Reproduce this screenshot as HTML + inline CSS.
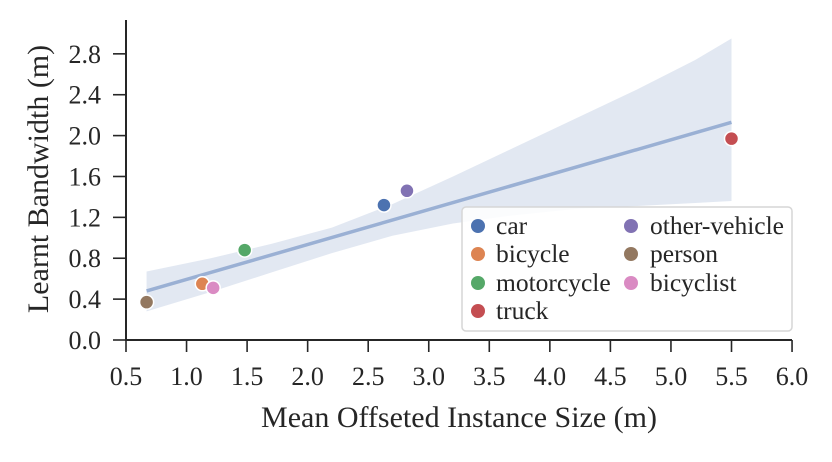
<!DOCTYPE html>
<html><head><meta charset="utf-8"><style>
body{margin:0;background:#fff}
svg text{font-family:"Liberation Serif",serif;fill:#262626}
</style></head><body>
<svg width="832" height="457" viewBox="0 0 832 457">
<g id="plot"></g>
</svg>
<script>
const categories=["car","bicycle","motorcycle","truck","other-vehicle","person","bicyclist"];
const colors=["#4c72b0","#dd8452","#55a868","#c44e52","#8172b3","#937860","#da8bc3"];
const xValues=[2.63,1.13,1.48,5.5,2.82,0.67,1.22];
const yValues=[1.32,0.55,0.88,1.97,1.46,0.37,0.51];
const xTicks=[0.5,1.0,1.5,2.0,2.5,3.0,3.5,4.0,4.5,5.0,5.5,6.0];
const yTicks=[0.0,0.4,0.8,1.2,1.6,2.0,2.4,2.8];
const fitX=[0.67,5.5];
const fitY=[0.48,2.13];
const bandX=[0.67,1.2,1.7,2.2,2.7,3.2,3.7,4.2,4.7,5.2,5.5];
const bandUpper=[0.67,0.80,0.94,1.10,1.33,1.60,1.88,2.16,2.44,2.74,2.95];
const bandLower=[0.28,0.47,0.66,0.85,1.02,1.14,1.22,1.28,1.31,1.34,1.36];
const X=v=>126+(v-0.5)*121.1, Y=v=>340-v*102.2;
const NS="http://www.w3.org/2000/svg";
const g=document.getElementById('plot');
function mk(t,a,txt){const e=document.createElementNS(NS,t);for(const k in a)e.setAttribute(k,a[k]);if(txt!==undefined)e.textContent=txt;g.appendChild(e);return e;}
let pts=bandX.map((x,i)=>X(x)+","+Y(bandUpper[i]));
pts=pts.concat(bandX.map((x,i)=>X(x)+","+Y(bandLower[i])).reverse());
let e=mk('polygon',{points:pts.join(' '),fill:'#4c72b0','fill-opacity':0.16});


e=mk('line',{x1:X(fitX[0]),y1:Y(fitY[0]),x2:X(fitX[1]),y2:Y(fitY[1]),stroke:'#9ab0d4','stroke-width':3.5});


categories.forEach((c,i)=>{
 const p=mk('circle',{cx:X(xValues[i]),cy:Y(yValues[i]),r:7,fill:colors[i],stroke:'#fff','stroke-width':1.5});
 
 
});
e=mk('line',{x1:126,y1:20,x2:126,y2:341,stroke:'#262626','stroke-width':2});


e=mk('line',{x1:125,y1:340,x2:792,y2:340,stroke:'#262626','stroke-width':2});


xTicks.forEach(t=>{
 const tk=mk('line',{x1:X(t),y1:340,x2:X(t),y2:352,stroke:'#262626','stroke-width':1.6});
 
 
 const l=mk('text',{x:X(t),y:385,'text-anchor':'middle','font-size':26},t.toFixed(1));
 
 
});
yTicks.forEach(t=>{
 const tk=mk('line',{x1:113,y1:Y(t),x2:126,y2:Y(t),stroke:'#262626','stroke-width':1.6});
 
 
 const l=mk('text',{x:101,y:Y(t)+9,'text-anchor':'end','font-size':26},t.toFixed(1));
 
 
});
e=mk('text',{x:459,y:427,'text-anchor':'middle','font-size':30},'Mean Offseted Instance Size (m)');


e=mk('text',{x:0,y:0,'text-anchor':'middle','font-size':30,transform:'translate(48,179) rotate(-90)'},'Learnt Bandwidth (m)');


e=mk('rect',{x:462,y:207,width:330,height:124,rx:4,fill:'#fff','fill-opacity':0.85,stroke:'#d6d6d6','stroke-width':1.5});


const legOrder=[[0,0],[1,0],[2,0],[3,0],[4,1],[5,1],[6,1]];
const rowY=[226,254,283,311];
legOrder.forEach(([i,col],k)=>{
 const row=col===0?k:k-4;
 const mx=col===0?478:631, tx=col===0?496:650;
 const m=mk('circle',{cx:mx,cy:rowY[row],r:7,fill:colors[i]});
 
 
 const t=mk('text',{x:tx,y:rowY[row]+8,'font-size':25.5},categories[i]);
 
 
});
</script>
</body></html>
